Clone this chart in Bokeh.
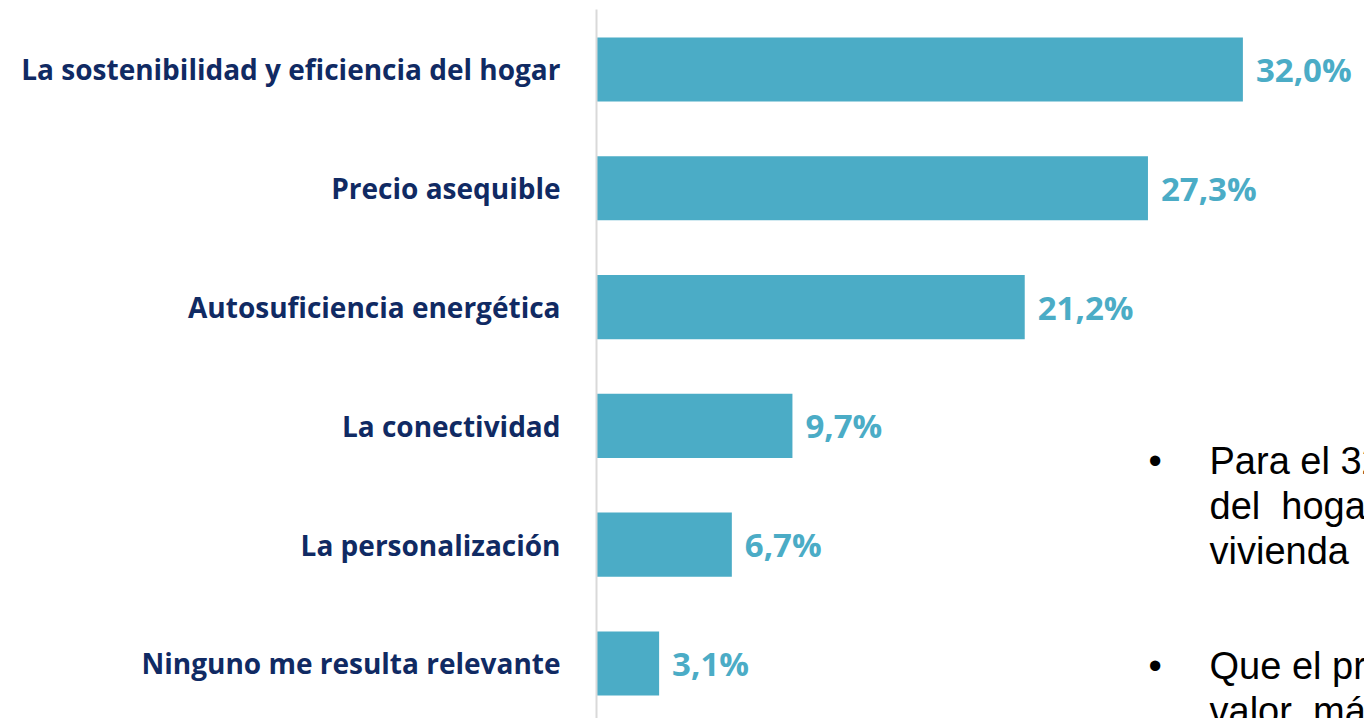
from bokeh.plotting import figure
from bokeh.models import Range1d, FixedTicker, ColumnDataSource
from bokeh.core.properties import value
from bokeh.embed import file_html
from bokeh.resources import INLINE

categories = [
    "La sostenibilidad y eficiencia del hogar",
    "Precio asequible",
    "Autosuficiencia energética",
    "La conectividad",
    "La personalización",
    "Ninguno me resulta relevante",
]
values = [32.0, 27.3, 21.2, 9.7, 6.7, 3.1]

NB = "\u00a0"
bullet_lines = ["Para el 32,0% de los", f"del{NB}{NB}hogar{NB}{NB}es", "vivienda"]
bullet2_lines = ["Que el precio sea", f"valor{NB}{NB}más"]

BAR = "#4BACC6"
NAVY = "#102A63"

n = len(categories)
ypos = [n - 1 - i for i in range(n)]
labels = [f"{v:.1f}".replace(".", ",") + "%" for v in values]

src = ColumnDataSource(dict(y=ypos, v=values, lab=labels))

p = figure(width=1364, height=718, output_backend="svg", toolbar_location=None,
           x_range=Range1d(0, 38.02), y_range=Range1d(-0.463, 5.505),
           min_border_left=596, min_border_right=0, min_border_top=9, min_border_bottom=0)
p.outline_line_color = None
p.grid.visible = False
p.xaxis.visible = False
p.background_fill_color = "white"

p.hbar(y="y", right="v", left=0, height=0.54, source=src, color=BAR, line_color=None)
p.text(x="v", y="y", text="lab", source=src, x_offset=13, text_baseline="middle",
       text_font=value("Open Sans"), text_font_style="bold", text_font_size="33px", text_color=BAR)

yax = p.yaxis[0]
yax.ticker = FixedTicker(ticks=ypos)
yax.major_label_overrides = {y: c for y, c in zip(ypos, categories)}
yax.major_tick_line_color = None
yax.minor_tick_line_color = None
yax.axis_line_color = "#D9D9D9"
yax.axis_line_width = 2
yax.major_label_standoff = 30
yax.major_label_text_font = "Open Sans"
yax.major_label_text_font_style = "bold"
yax.major_label_text_font_size = "28px"
yax.major_label_text_color = NAVY

# bullet text block (page pixel -> data)
def dy(page_y):
    return 5.505 - (page_y - 9) / 118.8

def dx(page_x):
    return (page_x - 596) / 20.2

b1_y = [dy(460), dy(505), dy(550)]
b2_y = [dy(665), dy(710)]
p.text(x=[dx(1209)] * 3, y=b1_y, text=bullet_lines, text_baseline="middle",
       text_font=value("Liberation Sans"), text_font_size="38px", text_color="black")
p.text(x=[dx(1209)] * 2, y=b2_y, text=bullet2_lines, text_baseline="middle",
       text_font=value("Liberation Sans"), text_font_size="38px", text_color="black")
p.text(x=[dx(1148)] * 2, y=[b1_y[0], b2_y[0]], text=["•", "•"], text_baseline="middle",
       text_font=value("Liberation Sans"), text_font_size="38px", text_color="black")

open("out.html", "w").write(file_html(p, INLINE))
